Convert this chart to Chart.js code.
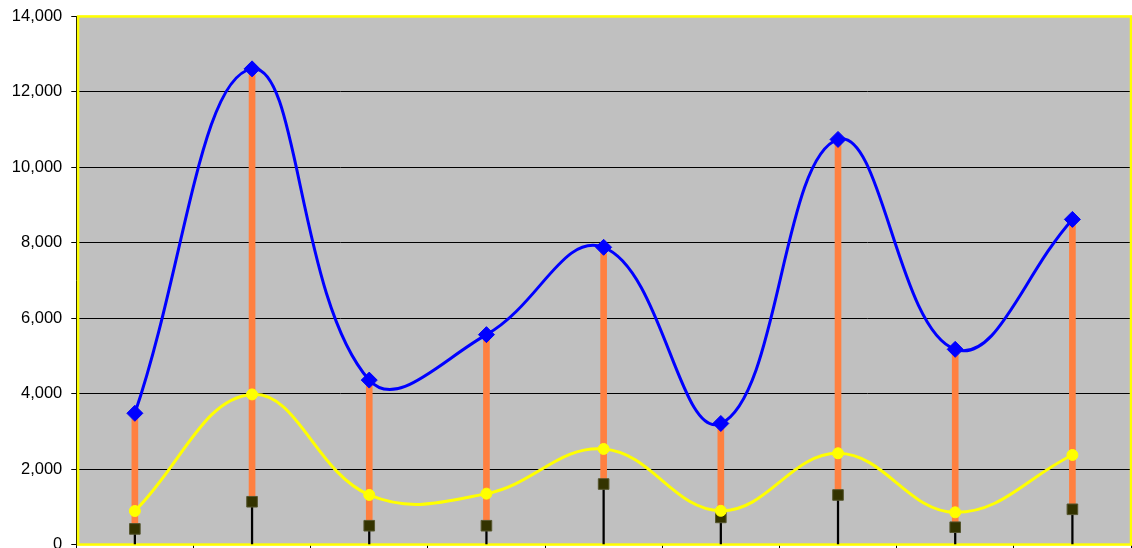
<!DOCTYPE html>
<html>
<head>
<meta charset="utf-8">
<script src="https://cdn.jsdelivr.net/npm/chart.js@4"></script>
<style>
  html, body { margin: 0; padding: 0; background: #fff; overflow: hidden; }
  #hiLoCanvas { display: block; }
</style>
</head>
<body>
<canvas id="hiLoCanvas" width="1140" height="561"></canvas>
<script>
// values
const categories = ['1', '2', '3', '4', '5', '6', '7', '8', '9'];
const highValues = [3480, 12610, 4360, 5565, 7880, 3210, 10740, 5175, 8620];
const midValues  = [890, 3980, 1315, 1350, 2535, 895, 2420, 855, 2375];
const lowValues  = [415, 1135, 500, 500, 1605, 720, 1315, 460, 935];
const yTicks = { min: 0, max: 14000, step: 2000 };

// floating bars built from the series
const hiLoBars = lowValues.map((lo, i) => [lo, highValues[i]]);
const dropBars = lowValues.map(lo => [0, lo]);

const plotFrame = {
  id: 'plotFrame',
  beforeDraw(chart) {
    const { ctx, chartArea: a } = chart;
    ctx.save();
    ctx.fillStyle = '#C0C0C0';
    ctx.fillRect(a.left, a.top, a.right - a.left, a.bottom - a.top);
    ctx.restore();
  },
  beforeDatasetsDraw(chart) {
    const { ctx, chartArea: a } = chart;
    ctx.save();
    ctx.strokeStyle = '#FFFF00';
    ctx.lineWidth = 2.5;
    ctx.strokeRect(a.left + 1.8, a.top, a.right - a.left - 1.8, a.bottom - a.top);
    ctx.restore();
  }
};

const hiLoCanvas = document.getElementById('hiLoCanvas');
let hiLoChart = new Chart(hiLoCanvas, {
  type: 'bar',
  data: {
    labels: categories,
    datasets: [
      {
        type: 'line',
        label: 'High',
        data: highValues,
        borderColor: '#0000FF',
        borderWidth: 3,
        tension: 0.42,
        pointStyle: 'rectRot',
        pointRadius: 8,
        pointBackgroundColor: '#0000FF',
        pointBorderColor: '#0000FF',
        pointBorderWidth: 1
      },
      {
        type: 'line',
        label: 'Mid',
        data: midValues,
        borderColor: '#FFFF00',
        borderWidth: 3,
        tension: 0.4,
        pointStyle: 'circle',
        pointRadius: 5.5,
        pointBackgroundColor: '#FFFF00',
        pointBorderColor: '#FFFF00',
        pointBorderWidth: 1
      },
      {
        type: 'line',
        label: 'Low',
        data: lowValues,
        showLine: false,
        pointStyle: 'rect',
        pointRadius: 7.5,
        pointBackgroundColor: '#333300',
        pointBorderColor: '#55552e',
        pointBorderWidth: 1
      },
      {
        label: 'Hi-Lo',
        data: hiLoBars,
        backgroundColor: '#FF8040',
        borderWidth: 0,
        barThickness: 6,
        grouped: false
      },
      {
        label: 'Drop',
        data: dropBars,
        backgroundColor: '#000000',
        borderWidth: 0,
        barThickness: 1.6,
        grouped: false
      }
    ]
  },
  options: {
    responsive: false,
    animation: false,
    events: [],
    layout: {
      padding: { top: 0, left: 2.8, right: 1, bottom: 0 }
    },
    scales: {
      x: {
        offset: true,
        ticks: { display: false },
        grid: {
          offset: true,
          drawOnChartArea: false,
          drawTicks: true,
          tickLength: 10,
          color: '#000000',
          lineWidth: 1
        },
        border: { display: false }
      },
      y: {
        min: yTicks.min,
        max: yTicks.max,
        ticks: {
          stepSize: yTicks.step,
          color: '#000000',
          padding: 9,
          font: { family: 'Liberation Sans, Arial, sans-serif', size: 16.5, lineHeight: 0.9 },
          callback: v => v.toLocaleString('en-US')
        },
        grid: {
          color: '#000000',
          lineWidth: 1,
          drawTicks: true,
          tickLength: 5
        },
        border: { display: true, color: '#000000', width: 1 }
      }
    },
    plugins: {
      legend: { display: false },
      tooltip: { enabled: false }
    }
  },
  plugins: [plotFrame]
});
</script>
</body>
</html>
